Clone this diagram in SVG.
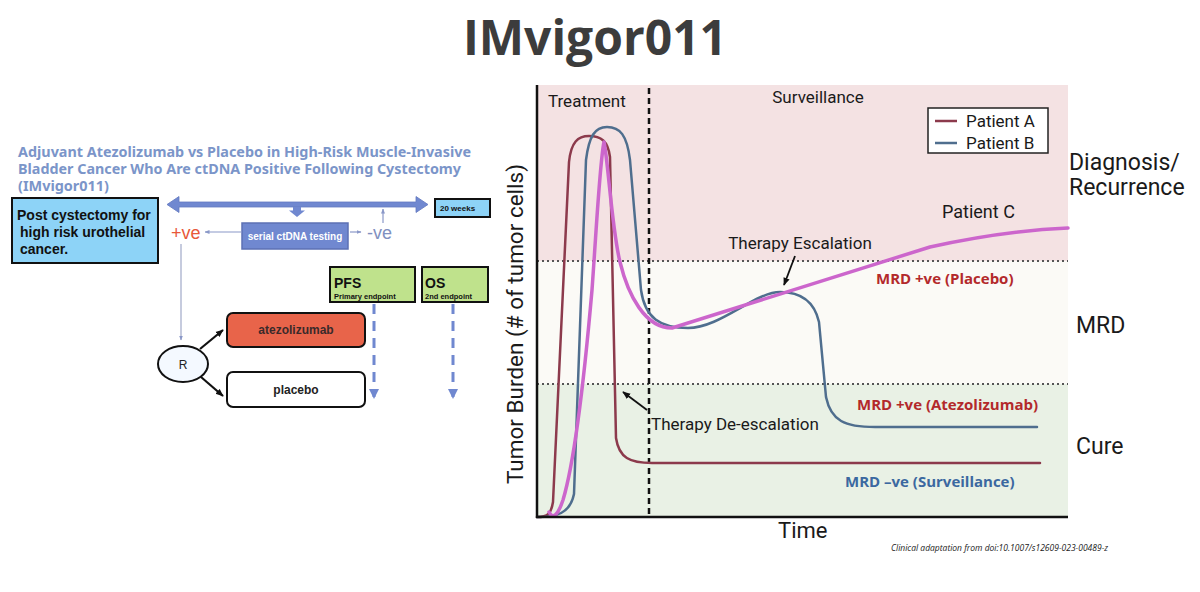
<svg xmlns="http://www.w3.org/2000/svg" width="1200" height="592" viewBox="0 0 1200 592">
<style>
.ch{font-family:Roboto,"Liberation Sans",sans-serif;fill:#1a1a1a}
.ar{font-family:"Liberation Sans",Arial,sans-serif}
.mrd{font-family:"Open Sans","Liberation Sans",sans-serif;font-weight:700;font-size:15px}
.dot{stroke:#555;stroke-width:2;stroke-dasharray:2 3;fill:none}
.curve{fill:none;stroke-linejoin:round;stroke-linecap:round}
.box{stroke:#111;stroke-width:2}
</style>
<defs>
<marker id="mk" viewBox="0 0 10 10" refX="9" refY="5" markerWidth="8" markerHeight="8" orient="auto" markerUnits="userSpaceOnUse"><path d="M0,1 L10,5 L0,9 z" fill="#111"/></marker>
<marker id="mt" viewBox="0 0 10 10" refX="9" refY="5" markerWidth="5" markerHeight="5" orient="auto" markerUnits="userSpaceOnUse"><path d="M0,1 L10,5 L0,9 z" fill="#8a98c8"/></marker>
<marker id="mb" viewBox="0 0 10 10" refX="8" refY="5" markerWidth="10" markerHeight="10" orient="auto" markerUnits="userSpaceOnUse"><path d="M0,0 L10,5 L0,10 z" fill="#7088d0"/></marker>
</defs>
<rect width="1200" height="592" fill="#fff"/>
<text x="595" y="55" text-anchor="middle" font-family="'Open Sans','Noto Sans',sans-serif" font-weight="700" font-size="48" fill="#3c3c3c">IMvigor011</text>

<!-- Chart -->
<g id="chart">
<rect x="537" y="85" width="531" height="176" fill="#f4e2e3"/>
<rect x="537" y="261" width="531" height="123" fill="#fbfaf6"/>
<rect x="537" y="384" width="531" height="133" fill="#e9f1e5"/>
<line x1="537" y1="261" x2="1068" y2="261" class="dot"/>
<line x1="537" y1="384" x2="1068" y2="384" class="dot"/>
<line x1="649" y1="88" x2="649" y2="517" stroke="#111" stroke-width="2.5" stroke-dasharray="6 4"/>
<path class="curve" stroke="#8c3a4c" stroke-width="2.5" d="M537,517 C548,517 551,514 553,502 L569,162 C571,142 578,136 589,136 C601,136 608,141 610,157 L616,438 C619,458 630,463 652,463 L1040,463"/>
<path class="curve" stroke="#4f6e8e" stroke-width="2.5" d="M537,517 C556,517 570,514 574,494 L586,160 C589,136 595,127 607,127 C620,127 627,135 630,160 L641,290 C645,318 660,328 688,328 C720,328 755,292 780,292 C800,292 814,300 819,322 L826,397 C831,421 845,427 875,427 L1037,427"/>
<path class="curve" stroke="#cc66cc" stroke-width="3.5" d="M549,512 C553,520 558,515 563,500 C575,460 585,370 592,290 C597,220 600,160 604,142 C608,160 612,230 620,262 C628,295 645,328 672,328 L930,247 C980,236 1020,230 1068,228"/>
<line x1="537" y1="85" x2="537" y2="518" stroke="#111" stroke-width="2.5"/>
<line x1="536" y1="517" x2="1068" y2="517" stroke="#111" stroke-width="2.5"/>
<text x="548" y="107" class="ch" font-size="17">Treatment</text>
<text x="818" y="103" class="ch" font-size="17" text-anchor="middle">Surveillance</text>
<text x="800" y="249" class="ch" font-size="17" text-anchor="middle">Therapy Escalation</text>
<text x="651" y="430" class="ch" font-size="17">Therapy De-escalation</text>
<text x="942" y="218" class="ch" font-size="18">Patient C</text>
<text x="778" y="538" class="ch" font-size="22">Time</text>
<text transform="translate(523,324) rotate(-90)" text-anchor="middle" class="ch" font-size="22.5">Tumor Burden (# of tumor cells)</text>
<text x="876" y="284" class="mrd" fill="#b3292b">MRD +ve (Placebo)</text>
<text x="857" y="410" class="mrd" fill="#b3292b">MRD +ve (Atezolizumab)</text>
<text x="845" y="487" class="mrd" fill="#3b68a0">MRD –ve (Surveillance)</text>
</g>
<g id="legend">
<rect x="928" y="108" width="120" height="45" fill="#fff" stroke="#222" stroke-width="1.5"/>
<line x1="935" y1="121" x2="957" y2="121" stroke="#8c3a4c" stroke-width="2.5"/>
<line x1="935" y1="143" x2="957" y2="143" stroke="#4f6e8e" stroke-width="2.5"/>
<text x="966" y="127" class="ch" font-size="17">Patient A</text>
<text x="966" y="149" class="ch" font-size="17">Patient B</text>
</g>
<g id="zones" class="ch" font-size="23">
<text x="1069" y="170">Diagnosis/</text>
<text x="1069" y="195">Recurrence</text>
<text x="1076" y="333">MRD</text>
<text x="1076" y="454">Cure</text>
</g>
<text x="891" y="551" font-family="'Open Sans','Liberation Sans',sans-serif" font-style="italic" font-size="8.5" fill="#222">Clinical adaptation from doi:10.1007/s12609-023-00489-z</text>

<!-- Left schema -->
<g id="heading" font-family="'Noto Sans','Open Sans',sans-serif" font-weight="700" font-size="14" fill="#7b95c9">
<text x="18" y="157" textLength="453" lengthAdjust="spacingAndGlyphs">Adjuvant Atezolizumab vs Placebo in High-Risk Muscle-Invasive</text>
<text x="18" y="174" textLength="443" lengthAdjust="spacingAndGlyphs">Bladder Cancer Who Are ctDNA Positive Following Cystectomy</text>
<text x="18" y="191" textLength="91" lengthAdjust="spacingAndGlyphs">(IMvigor011)</text>
</g>
<g id="post">
<rect x="12" y="198" width="146" height="65" fill="#8dd3f7" class="box"/>
<text class="ar" font-weight="700" font-size="14" fill="#111"><tspan x="17" y="220">Post cystectomy  for</tspan><tspan x="20" y="237">high risk urothelial</tspan><tspan x="20" y="254">cancer.</tspan></text>
</g>
<g id="weeks">
<rect x="435" y="199" width="55" height="18" fill="#8dd3f7" class="box"/>
<text x="440" y="211" class="ar" font-weight="700" font-size="8" fill="#111">20 weeks</text>
</g>
<g id="serial">
<rect x="242" y="223" width="106" height="26" fill="#7088d0" stroke="#5c70b4" stroke-width="1.5"/>
<text x="295" y="240" text-anchor="middle" class="ar" font-weight="700" font-size="10" fill="#fff">serial ctDNA testing</text>
</g>
<g id="pos"><text x="171" y="239" class="ar" font-size="18" fill="#e8583a">+ve</text></g>
<g id="neg"><text x="367" y="239" class="ar" font-size="18" fill="#7f90c0">-ve</text></g>
<g id="R">
<ellipse cx="183" cy="364" rx="25" ry="18" fill="#f4f9ff" class="box"/>
<text x="183" y="368.5" text-anchor="middle" class="ar" font-size="12" fill="#222">R</text>
</g>
<g id="atezo">
<rect x="227" y="313" width="138" height="34" rx="6" fill="#e8644a" class="box"/>
<text x="296" y="334" text-anchor="middle" class="ar" font-weight="700" font-size="12" fill="#3a2a2a">atezolizumab</text>
</g>
<g id="placebo">
<rect x="227" y="372" width="138" height="35" rx="6" fill="#fff" class="box"/>
<text x="296" y="394" text-anchor="middle" class="ar" font-weight="700" font-size="12" fill="#222">placebo</text>
</g>
<g id="pfs">
<rect x="330" y="267" width="85" height="35" fill="#bfe28c" class="box"/>
<text x="334" y="288" class="ar" font-weight="700" font-size="14" fill="#111">PFS</text>
<text x="334" y="298.5" class="ar" font-weight="700" font-size="7.5" fill="#111">Primary  endpoint</text>
</g>
<g id="os">
<rect x="422" y="267" width="66" height="35" fill="#bfe28c" class="box"/>
<text x="425" y="288" class="ar" font-weight="700" font-size="14" fill="#111">OS</text>
<text x="425" y="298.5" class="ar" font-weight="700" font-size="7.5" fill="#111">2nd endpoint</text>
</g>
<g id="connectors">
<polygon points="167,204.5 179,196.5 179,202 416,202 416,196.5 428,204.5 416,212.5 416,207 179,207 179,212.5" fill="#7088d0" stroke="#6378c0" stroke-width="0.8"/>
<polygon points="293,207 301,207 301,210.5 305,210.5 297,217 289,210.5 293,210.5" fill="#7088d0"/>
<line x1="242" y1="232" x2="205" y2="232" stroke="#8a98c8" stroke-width="1.2" marker-end="url(#mt)"/>
<line x1="350" y1="232" x2="361" y2="232" stroke="#8a98c8" stroke-width="1.2" marker-end="url(#mt)"/>
<line x1="383" y1="223" x2="383" y2="209" stroke="#8a98c8" stroke-width="1.2" marker-end="url(#mt)"/>
<line x1="181" y1="244" x2="181" y2="340" stroke="#a0a8c8" stroke-width="1.2" marker-end="url(#mt)"/>
<line x1="200" y1="349" x2="223" y2="330" stroke="#111" stroke-width="2.2" marker-end="url(#mk)"/>
<line x1="201" y1="377" x2="223" y2="396" stroke="#111" stroke-width="2.2" marker-end="url(#mk)"/>
<line x1="374" y1="304" x2="374" y2="397" stroke="#7088d0" stroke-width="3" stroke-dasharray="10 7" marker-end="url(#mb)"/>
<line x1="453" y1="304" x2="453" y2="397" stroke="#7088d0" stroke-width="3" stroke-dasharray="10 7" marker-end="url(#mb)"/>
<line x1="795" y1="256" x2="784" y2="285" stroke="#111" stroke-width="1.8" marker-end="url(#mk)"/>
<line x1="647" y1="410" x2="623" y2="392" stroke="#111" stroke-width="1.8" marker-end="url(#mk)"/>
</g>
</svg>
